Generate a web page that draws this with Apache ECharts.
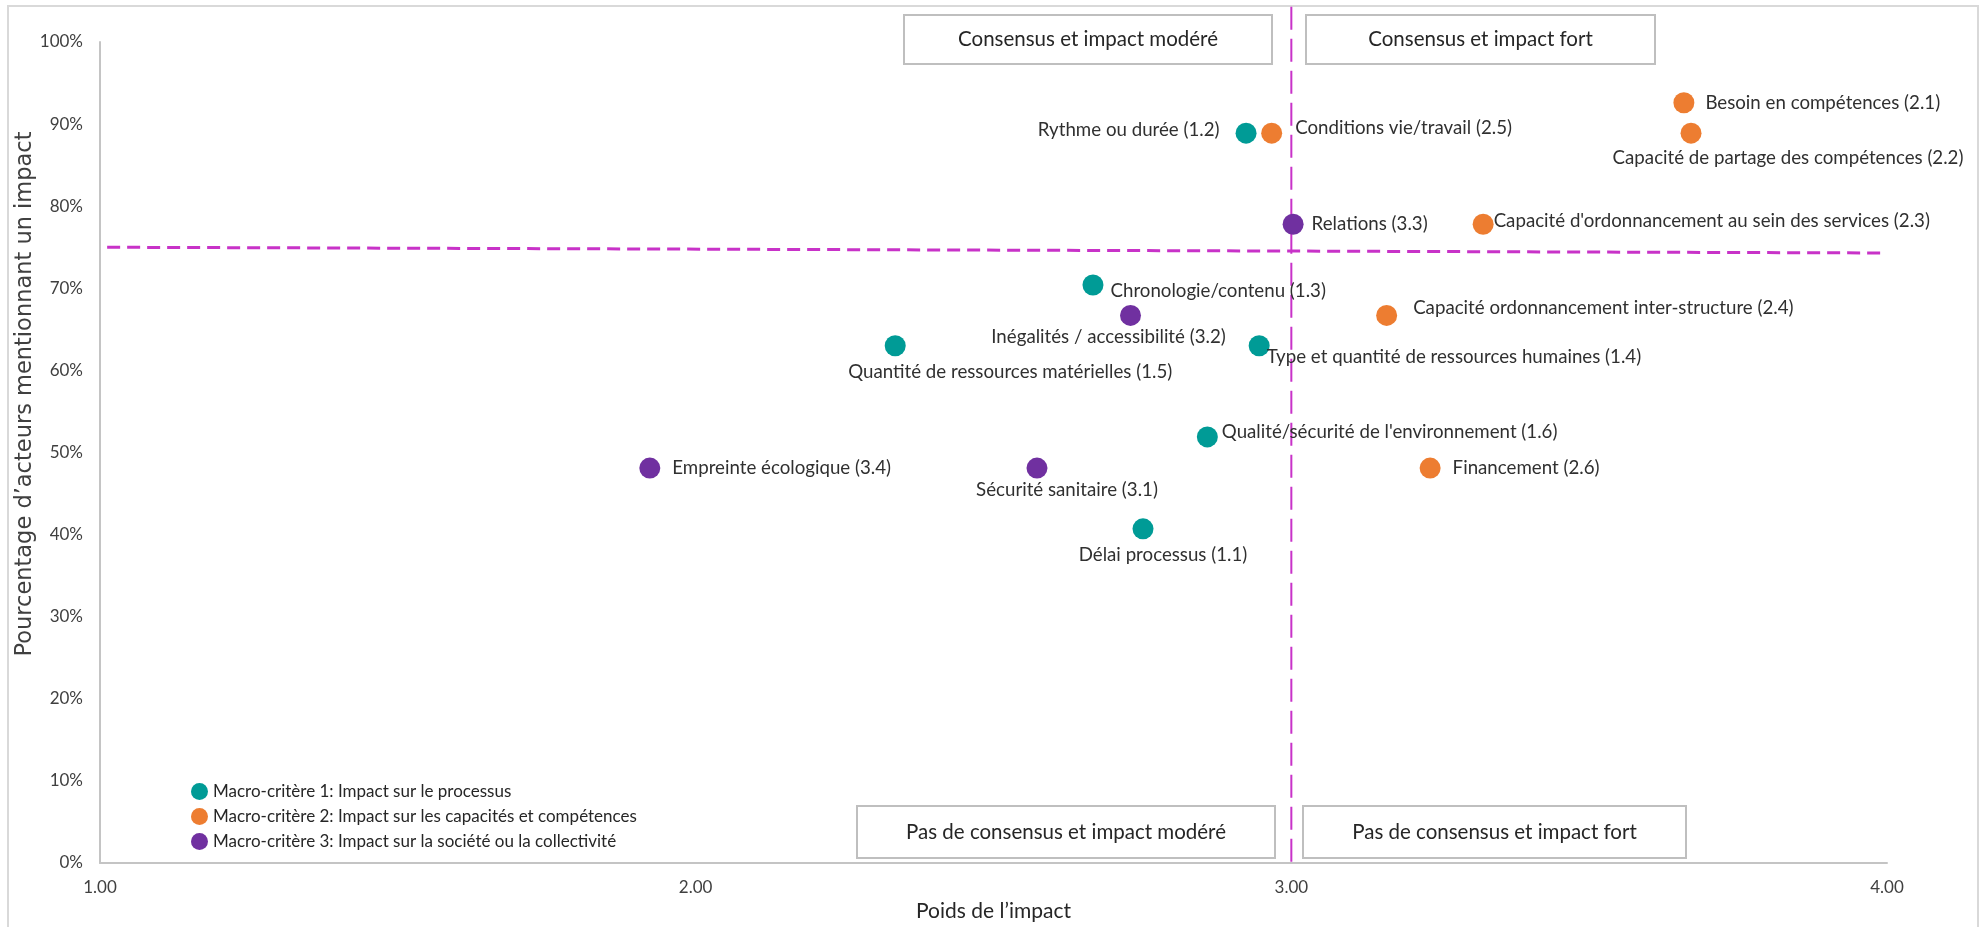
<!DOCTYPE html>
<html>
<head>
<meta charset="utf-8">
<script src="https://cdn.jsdelivr.net/npm/echarts@6/dist/echarts.min.js"></script>
<style>
html,body{margin:0;padding:0;background:#fff;}
#chart{width:1988px;height:927px;}
</style>
</head>
<body>
<div id="chart"></div>
<script>
// ---- Data ----
const seriesNames = [
  'Macro-critère 1: Impact sur le processus',
  'Macro-critère 2: Impact sur les capacités et compétences',
  'Macro-critère 3: Impact sur la société ou la collectivité'
];
const names1 = ['Délai processus (1.1)', 'Rythme ou durée (1.2)', 'Chronologie/contenu (1.3)',
  'Type et quantité de ressources humaines (1.4)', 'Quantité de ressources matérielles (1.5)',
  "Qualité/sécurité de l'environnement (1.6)"];
const x1 = [2.751, 2.924, 2.667, 2.946, 2.335, 2.859];
const y1 = [40.7, 88.9, 70.4, 63.0, 63.0, 51.9];

const names2 = ['Besoin en compétences (2.1)', 'Capacité de partage des compétences (2.2)',
  "Capacité d'ordonnancement au sein des services (2.3)", 'Capacité ordonnancement inter-structure (2.4)',
  'Conditions vie/travail (2.5)', 'Financement (2.6)'];
const x2 = [3.659, 3.671, 3.322, 3.160, 2.967, 3.233];
const y2 = [92.6, 88.9, 77.8, 66.7, 88.9, 48.1];

const names3 = ['Sécurité sanitaire (3.1)', 'Inégalités / accessibilité (3.2)', 'Relations (3.3)',
  'Empreinte écologique (3.4)'];
const x3 = [2.573, 2.730, 3.003, 1.923];
const y3 = [48.1, 66.7, 77.8, 48.1];

const xTicks = [1, 2, 3, 4];
const yTicks = [0, 10, 20, 30, 40, 50, 60, 70, 80, 90, 100];

// threshold lines (x = 3 vertical, ~75% horizontal)
const vLineX = [3, 3];
const vLineY = [104.3, 0];
const hLineX = [1.012, 4.0];
const hLineY = [75.0, 74.3];

const quadrantTexts = ['Consensus et impact modéré', 'Consensus et impact fort',
  'Pas de consensus et impact modéré', 'Pas de consensus et impact fort'];

// ---- Styles (label placement per point, separate from data) ----
const labelPlace1 = [
  {pos:'inside', dx:20, dy:26},
  {pos:'left', gap:16, dy:-3},
  {pos:'right', gap:7, dy:6},
  {pos:'right', gap:-3, dy:11},
  {pos:'inside', dx:115, dy:26},
  {pos:'right', gap:4, dy:-5}
];
const labelPlace2 = [
  {pos:'right', gap:11, dy:0},
  {pos:'inside', dx:97, dy:25},
  {pos:'right', gap:0, dy:-3},
  {pos:'right', gap:16, dy:-7},
  {pos:'right', gap:13, dy:-5},
  {pos:'right', gap:12, dy:0}
];
const labelPlace3 = [
  {pos:'inside', dx:30, dy:22},
  {pos:'inside', dx:-22, dy:22},
  {pos:'right', gap:8, dy:0},
  {pos:'right', gap:12, dy:0}
];
const colors = ['#009B96', '#ED7D31', '#7030A0'];
const FONT = 'Lato';
const LABEL_SIZE = 18.7;

function buildData(names, xs, ys, places) {
  return names.map((n, i) => {
    const p = places[i];
    const label = {show: true, formatter: n, fontFamily: FONT, fontSize: LABEL_SIZE, color: '#303030'};
    if (p.pos === 'inside') {
      label.position = 'inside';
      label.align = 'center';
      label.verticalAlign = 'middle';
    } else {
      label.position = p.pos;
      label.distance = p.gap;
    }
    return {name: n, value: [xs[i], ys[i]], label: label};
  });
}

const placesAll = [labelPlace1, labelPlace2, labelPlace3];

const chart = echarts.init(document.getElementById('chart'), null, {renderer: 'canvas'});

const scatterSeries = [
  [names1, x1, y1],
  [names2, x2, y2],
  [names3, x3, y3]
].map((d, k) => ({
  name: seriesNames[k],
  type: 'scatter',
  symbol: 'circle',
  symbolSize: 21,
  itemStyle: {color: colors[k], opacity: 1},
  labelLayout: function (params) {
    const p = placesAll[k][params.dataIndex];
    return {dx: p.pos === 'inside' ? p.dx : 0, dy: p.dy, hideOverlap: false};
  },
  data: buildData(d[0], d[1], d[2], placesAll[k]),
  z: 5
}));

const lineColor = '#C832C8';
const refSeries = [
  {
    name: 'vline', type: 'line', clip: false, silent: true, showSymbol: false, symbol: 'none',
    data: vLineX.map((x, i) => [x, vLineY[i]]),
    lineStyle: {color: lineColor, width: 2, type: [23, 9]}, z: 3
  },
  {
    name: 'hline', type: 'line', clip: false, silent: true, showSymbol: false, symbol: 'none',
    data: hLineX.map((x, i) => [x, hLineY[i]]),
    lineStyle: {color: lineColor, width: 3, type: [13, 7]}, z: 3
  }
];

function box(x, y, w, h, text) {
  return {
    type: 'group', z: 10,
    children: [
      {type: 'rect', shape: {x: x, y: y, width: w, height: h},
       style: {fill: '#fff', stroke: '#BFBFBF', lineWidth: 2}},
      {type: 'text', x: x + w / 2, y: y + h / 2,
       style: {text: text, align: 'center', verticalAlign: 'middle', fontFamily: FONT, fontSize: 20.5, fill: '#262626'}}
    ]
  };
}

chart.setOption({
  animation: false,
  backgroundColor: '#fff',
  grid: {left: 100, right: 101, top: 42, bottom: 64, containLabel: false},
  legend: {
    data: seriesNames,
    orient: 'vertical', left: 191, top: 783, padding: 0,
    icon: 'circle', itemWidth: 17, itemHeight: 17, itemGap: 8,
    textStyle: {fontFamily: FONT, fontSize: 17, color: '#262626'},
    selectedMode: false
  },
  xAxis: {
    type: 'value', min: xTicks[0], max: xTicks[xTicks.length - 1], interval: 1,
    name: 'Poids de l’impact', nameLocation: 'middle', nameGap: 38,
    nameTextStyle: {fontFamily: FONT, fontSize: 21, color: '#262626'},
    axisLine: {show: true, onZero: false, lineStyle: {color: '#C4C4C4', width: 2}},
    axisTick: {show: false},
    splitLine: {show: false},
    axisLabel: {formatter: v => v.toFixed(2), fontFamily: FONT, fontSize: 17, color: '#404040', margin: 16}
  },
  yAxis: {
    type: 'value', min: yTicks[0], max: yTicks[yTicks.length - 1], interval: 10,
    axisLine: {show: true, onZero: false, lineStyle: {color: '#C4C4C4', width: 2}},
    axisTick: {show: false},
    splitLine: {show: false},
    axisLabel: {formatter: '{value}%', fontFamily: FONT, fontSize: 17, color: '#404040', margin: 17}
  },
  graphic: [
    {type: 'rect', z: 0, silent: true, shape: {x: 8, y: 6, width: 1970, height: 940},
     style: {fill: 'none', stroke: '#D9D9D9', lineWidth: 2}},
    {type: 'text', x: 25, y: 394, rotation: Math.PI / 2, z: 10,
     style: {text: 'Pourcentage d’acteurs mentionnant un impact', align: 'center', verticalAlign: 'middle',
             fontFamily: 'DejaVu Sans', fontSize: 22.5, fill: '#404040'}},
    box(904, 15, 368, 49, quadrantTexts[0]),
    box(1306, 15, 349, 49, quadrantTexts[1]),
    box(857, 806, 418, 52, quadrantTexts[2]),
    box(1303, 806, 383, 52, quadrantTexts[3])
  ],
  series: refSeries.concat(scatterSeries)
});
</script>
</body>
</html>
